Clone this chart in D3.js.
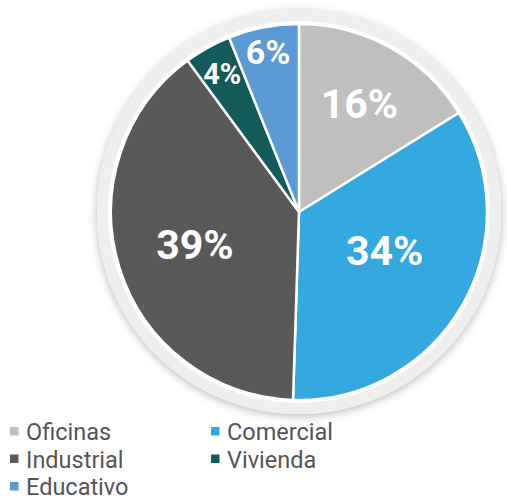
<!DOCTYPE html>
<html><head><meta charset="utf-8">
<script src="https://cdn.jsdelivr.net/npm/d3@7"></script>
<style>html,body{margin:0;padding:0;background:#fff;}svg{display:block;font-family:Roboto,"Noto Sans",sans-serif;}</style>
</head><body>
<svg id="c" width="507" height="501"></svg>
<script>
const categories = ["Oficinas","Comercial","Industrial","Vivienda","Educativo"];
const values = [16,34,39,4,6];
const labels = ["16%","34%","39%","4%","6%"];
const colors = ["#bfbfbf","#33a9e0","#595959","#135a5a","#5b9bd5"];

const svg = d3.select("#c");
const cx = 299, cy = 212, R = 188;
const defs = svg.append("defs");
const f = defs.append("filter").attr("id","sh").attr("x","-20%").attr("y","-20%").attr("width","140%").attr("height","140%");
f.append("feDropShadow").attr("dx",0).attr("dy",2).attr("stdDeviation",5).attr("flood-color","#000").attr("flood-opacity",0.28);

const g = svg.append("g").attr("transform",`translate(${cx},${cy})`);
g.append("circle").attr("r",202).attr("fill","#efefef").attr("filter","url(#sh)");
g.append("circle").attr("r",R+3).attr("fill","#fff");

const pie = d3.pie().sort(null).value(d=>d);
const arcs = pie(values);
const arc = d3.arc().innerRadius(0).outerRadius(R);
g.selectAll("path.s").data(arcs).join("path").attr("class","s")
  .attr("d",arc).attr("fill",(d,i)=>colors[i]).attr("stroke","#fff").attr("stroke-width",2.5).attr("stroke-linejoin","round");

function lr(v){ return v<5 ? 0.84*R : v<10 ? 0.87*R : v<20 ? 0.66*R : v<36 ? 0.5*R : 0.58*R; }
function la(d){ const a=(d.startAngle+d.endAngle)/2; return d.data>30&&d.data<36 ? a-0.1 : a; }
function fs(v){ return v<5 ? 29 : v<10 ? 34 : 41; }
g.selectAll("text.l").data(arcs).join("text").attr("class","l")
  .attr("transform",d=>{const a=la(d), r=lr(d.data); return `translate(${r*Math.sin(a)},${-r*Math.cos(a)})`;})
  .attr("text-anchor","middle").attr("dy","0.36em")
  .attr("fill","#fff").attr("font-weight","bold").attr("font-size",(d)=>fs(d.data)+"px")
  .text((d,i)=>labels[i]);

const leg = svg.append("g");
const items = leg.selectAll("g").data(categories).join("g")
  .attr("transform",(d,i)=>`translate(${i%2===0?10:211},${440+Math.floor(i/2)*27.5})`);
items.append("rect").attr("x",0).attr("y",-13).attr("width",8.5).attr("height",8.5).attr("fill",(d,i)=>colors[i]);
items.append("text").attr("x",16).attr("y",0).attr("font-size","23.5px").attr("fill","#555").text(d=>d);
</script>
</body></html>
